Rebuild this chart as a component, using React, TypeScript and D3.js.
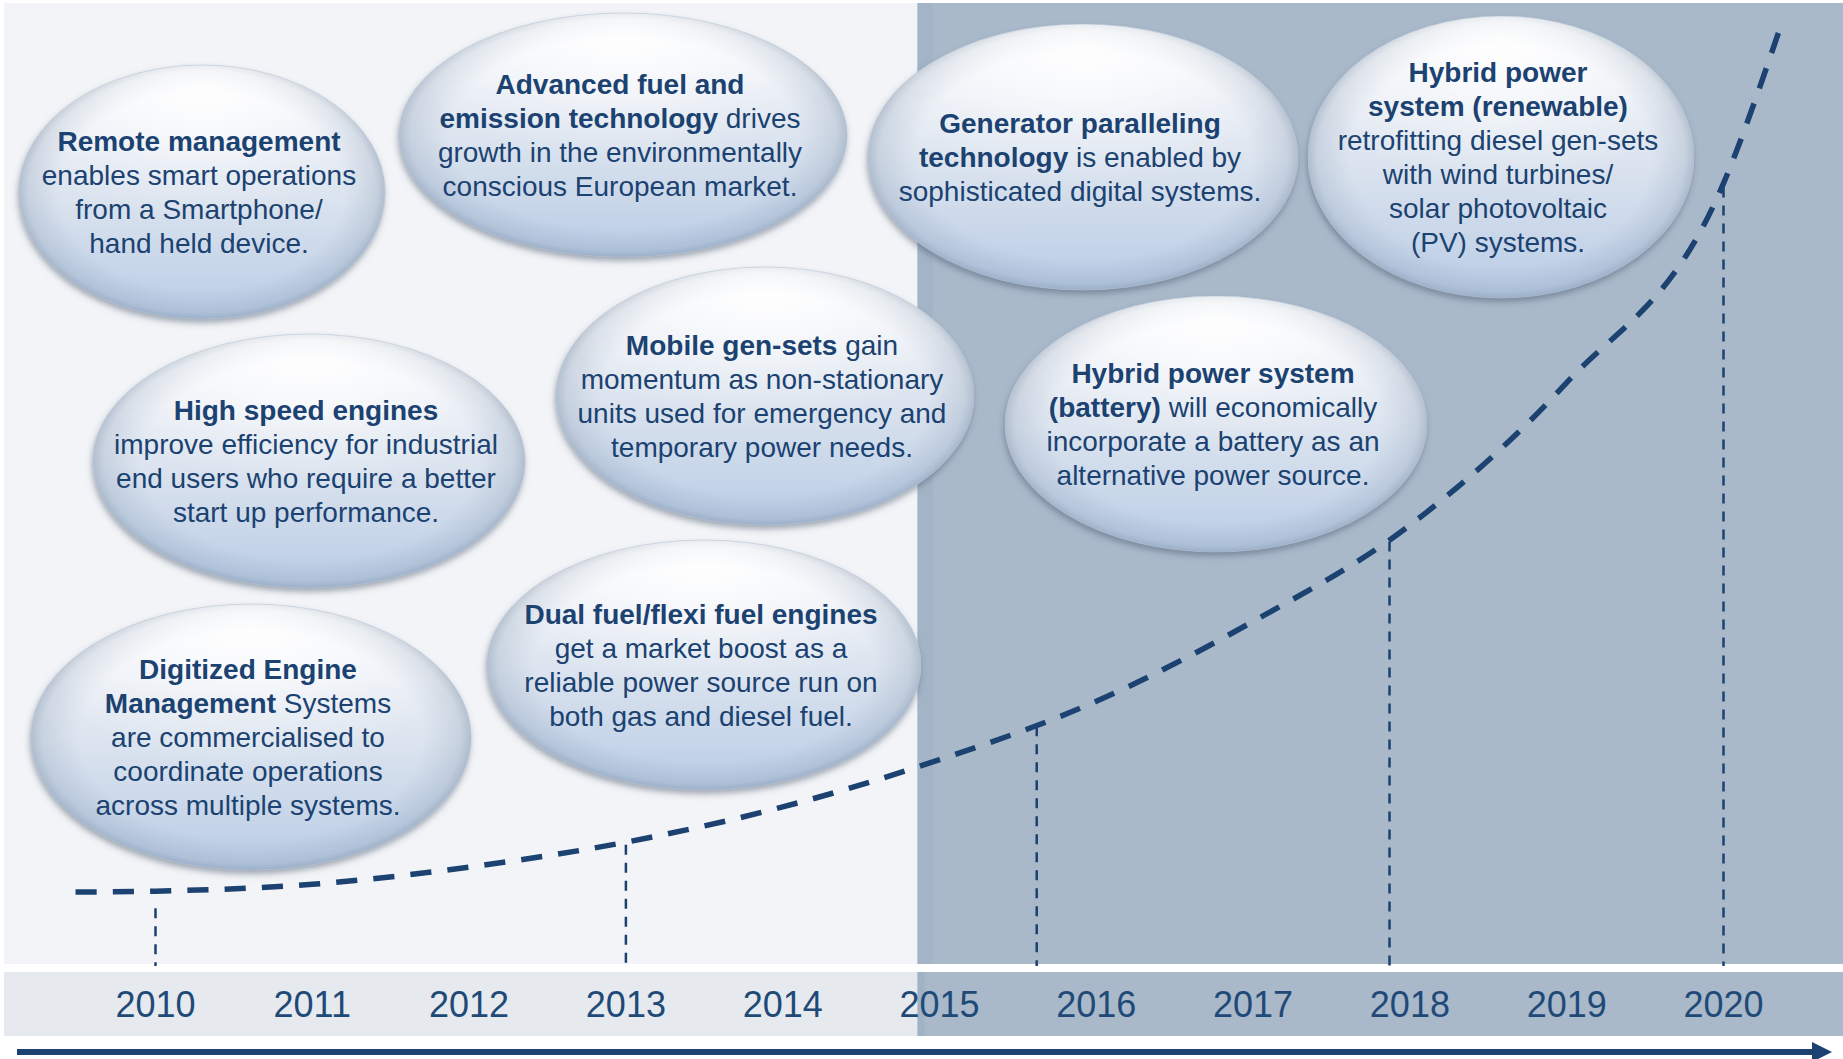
import React, { useEffect, useRef, useState } from "react";
import * as d3 from "d3";

// timeline axis
const years = [2010, 2011, 2012, 2013, 2014, 2015, 2016, 2017, 2018, 2019, 2020];
const forecastStart = 2014.86;

// adoption curve (index 0-100)
const curveYears = [2009.49, 2010, 2011, 2012, 2013, 2014, 2015, 2016, 2017, 2018, 2019, 2020, 2020.35];
const curveValues = [0, 0.1, 0.9, 2.9, 5.8, 9.9, 15.4, 22.2, 31.5, 42.7, 59.3, 82.5, 100];

// milestone drop lines
const markerYears = [2010, 2013, 2015.62, 2017.87, 2020];
const markerValues = [-1.9, 5.5, 19.3, 40.8, 82.0];

// bubble texts, **bold** segments
const bubbleTexts = [
  ["**Remote management**", "enables smart operations", "from a Smartphone/", "hand held device."],
  ["**Advanced fuel and**", "**emission technology** drives", "growth in the environmentally", "conscious European market."],
  ["**Generator paralleling**", "**technology** is enabled by", "sophisticated digital systems."],
  ["**Hybrid power**", "**system (renewable)**", "retrofitting diesel gen-sets", "with wind turbines/", "solar photovoltaic", "(PV) systems."],
  ["**High speed engines**", "improve efficiency for industrial", "end users who require a better", "start up performance."],
  ["**Mobile gen-sets** gain", "momentum as non-stationary", "units used for emergency and", "temporary power needs."],
  ["**Hybrid power system**", "**(battery)** will economically", "incorporate a battery as an", "alternative power source."],
  ["**Digitized Engine**", "**Management** Systems", "are commercialised to", "coordinate operations", "across multiple systems."],
  ["**Dual fuel/flexi fuel engines**", "get a market boost as a", "reliable power source run on", "both gas and diesel fuel."],
];

// bubble layout: cx, cy, rx, ry
const bubbleLayout = [
  [202, 192, 183, 127],
  [623, 135, 224, 122],
  [1083, 157, 215, 133],
  [1501, 157, 193, 141],
  [309, 461, 216, 127],
  [765, 396, 209, 129],
  [1216, 424, 211, 128],
  [251, 737, 220, 133],
  [704, 665, 217, 125],
];

const W = 1843;
const H = 1059;
const NAVY = "#1b4270";
const FONT = "'Liberation Sans', Arial, sans-serif";

const parseLine = (line: string) =>
  line.split("**").map((t, i) => ({ text: t, bold: i % 2 === 1 })).filter(s => s.text.length > 0);

const Bubble = ({ lines, layout }: { lines: string[]; layout: number[] }) => {
  const [cx, cy, rx, ry] = layout;
  const lh = 34;
  const first = cy - ((lines.length - 1) / 2) * lh + 10;
  return (
    <g>
      <ellipse cx={cx} cy={cy} rx={rx} ry={ry} fill="url(#bubbleFill)" filter="url(#bubbleShadow)" />
      <ellipse cx={cx} cy={cy} rx={rx} ry={ry} fill="url(#bubbleRim)" />
      <ellipse cx={cx} cy={cy} rx={rx} ry={ry} fill="url(#bubbleGloss)" stroke="#b3c2d3" strokeWidth={1} strokeOpacity={0.5} />
      <text x={cx - 3} y={first} textAnchor="middle" fontFamily={FONT} fontSize={28} fill={NAVY}>
        {lines.map((line, j) => (
          <tspan key={j} x={cx - 3} y={first + j * lh}>
            {parseLine(line).map((s, k) => (
              <tspan key={k} fontWeight={s.bold ? "bold" : "normal"}>{s.text}</tspan>
            ))}
          </tspan>
        ))}
      </text>
    </g>
  );
};

export default function App() {
  const x = d3.scaleLinear().domain([2010, 2020]).range([155.5, 1723.5]);
  const y = d3.scaleLinear().domain([0, 100]).range([892, 33]);

  const curvePts = curveYears.map((yr, i) => [x(yr), y(curveValues[i])] as [number, number]);
  const curvePath = d3.line().curve(d3.curveMonotoneX)(curvePts) || "";

  // fit the dash pattern so the curve starts and ends on a dash
  const pathRef = useRef<SVGPathElement>(null);
  const [dash, setDash] = useState("21 16");
  useEffect(() => {
    if (!pathRef.current) return;
    const L = pathRef.current.getTotalLength();
    const n = Math.round((L + 16) / 37);
    const k = L / (37 * n - 16);
    setDash(`${21 * k} ${16 * k}`);
  }, [curvePath]);

  const panelTop = 3;
  const panelBottom = 964;
  const bandTop = 972;
  const bandBottom = 1036;
  const left = 4;
  const split = x(forecastStart);
  const arrowY = 1052;

  return (
    <svg width={W} height={H} style={{ position: "absolute", left: 0, top: 0, background: "#ffffff" }}>
      <defs>
        <linearGradient id="bubbleFill" x1="0" y1="0" x2="0" y2="1">
          <stop offset="0" stopColor="#ffffff" />
          <stop offset="0.22" stopColor="#f0f3f8" />
          <stop offset="0.55" stopColor="#d9e2ee" />
          <stop offset="1" stopColor="#b9cce5" />
        </linearGradient>
        <radialGradient id="bubbleRim" cx="0.5" cy="0.5" r="0.5">
          <stop offset="0.78" stopColor="#7c90a8" stopOpacity={0} />
          <stop offset="0.95" stopColor="#7c90a8" stopOpacity={0.22} />
          <stop offset="1" stopColor="#6f849d" stopOpacity={0.4} />
        </radialGradient>
        <radialGradient id="bubbleGloss" cx="0.5" cy="0.12" r="0.5">
          <stop offset="0" stopColor="#ffffff" stopOpacity={0.85} />
          <stop offset="0.6" stopColor="#ffffff" stopOpacity={0.25} />
          <stop offset="1" stopColor="#ffffff" stopOpacity={0} />
        </radialGradient>
        <filter id="bubbleShadow" x="-10%" y="-10%" width="120%" height="125%">
          <feDropShadow dx={-1} dy={4} stdDeviation={3} floodColor="#4a5a6e" floodOpacity={0.5} />
        </filter>
      </defs>

      {/* background panels */}
      <rect x={left} y={panelTop} width={split - left} height={panelBottom - panelTop} fill="#f2f4f7" />
      <rect x={split} y={panelTop} width={W - split} height={panelBottom - panelTop} fill="#a9b9ca" />
      <rect x={split} y={panelTop} width={15} height={panelBottom - panelTop} fill="#a3b4c7" />

      {/* year band */}
      <rect x={left} y={bandTop} width={split - left} height={bandBottom - bandTop} fill="#e6e9ee" />
      <rect x={split} y={bandTop} width={W - split} height={bandBottom - bandTop} fill="#a9b9ca" />
      <rect x={split} y={bandTop} width={7} height={bandBottom - bandTop} fill="#a0b2c6" />

      {/* milestone drop lines */}
      {markerYears.map((yr, i) => (
        <line key={yr} x1={x(yr)} x2={x(yr)} y1={y(markerValues[i])} y2={i === 3 ? 971 : 966}
          stroke={NAVY} strokeWidth={2.5} strokeDasharray="10 8" />
      ))}

      {/* adoption curve */}
      <path ref={pathRef} d={curvePath} fill="none" stroke={NAVY} strokeWidth={5.5} strokeDasharray={dash} />

      {/* bubbles */}
      {bubbleTexts.map((lines, i) => (
        <Bubble key={i} lines={lines} layout={bubbleLayout[i]} />
      ))}

      {/* year labels */}
      {years.map(yr => (
        <text key={yr} x={x(yr)} y={1017} textAnchor="middle" fontFamily={FONT} fontSize={36} fill="#1f4a78">
          {yr}
        </text>
      ))}

      {/* time arrow */}
      <line x1={17} x2={1816} y1={arrowY} y2={arrowY} stroke={NAVY} strokeWidth={6} />
      <path d={`M1812,${arrowY - 10} L1832,${arrowY} L1812,${arrowY + 10} Z`} fill={NAVY} />
    </svg>
  );
}
